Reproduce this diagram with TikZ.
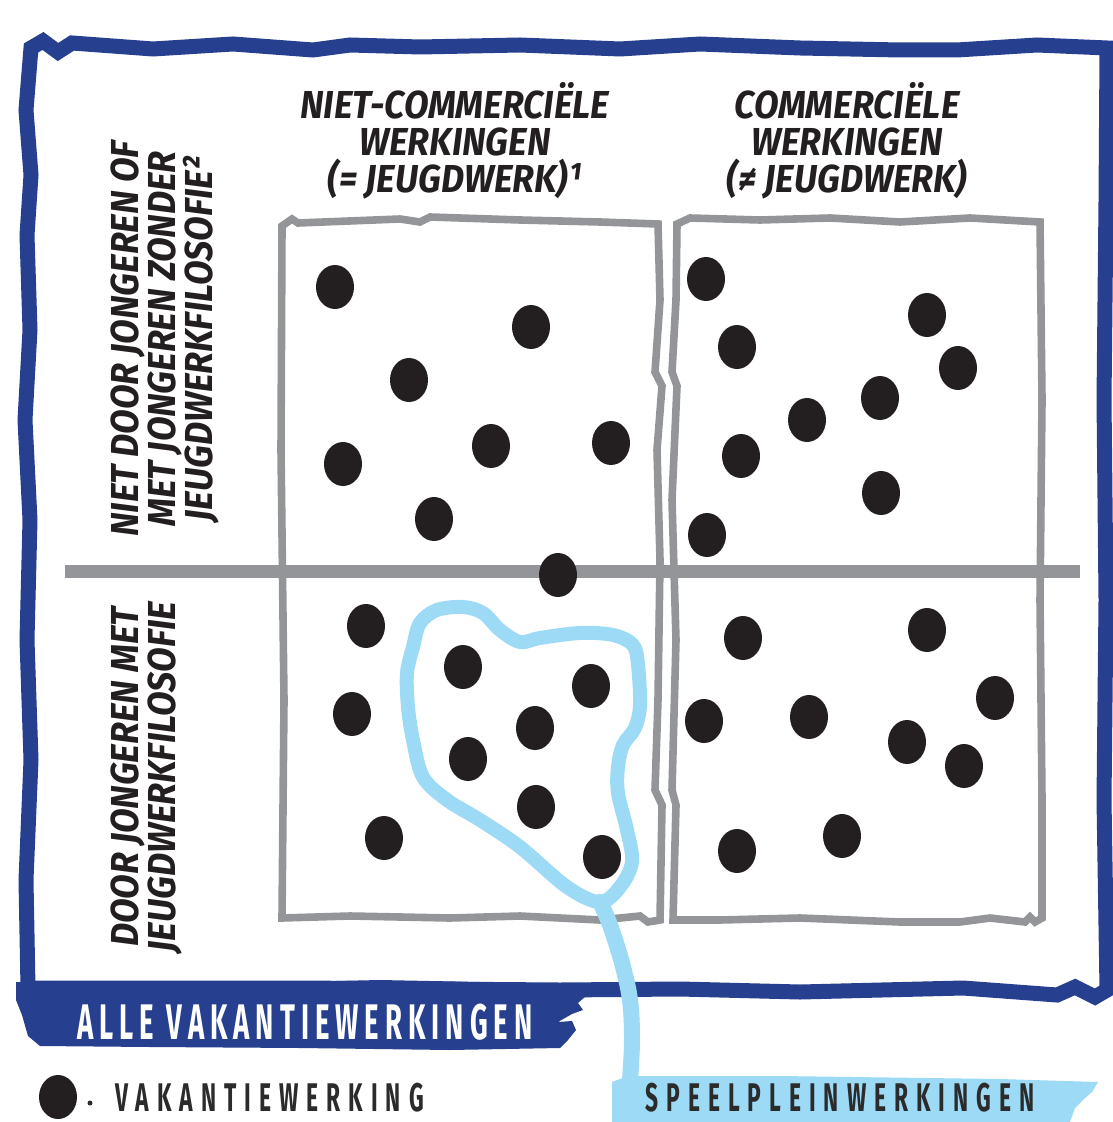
\documentclass[tikz,border=0pt]{standalone}
\usepackage{fontspec}
\setmainfont{Fira Sans}
\newfontfamily\headfont[FakeStretch=0.92]{Fira Sans}
\newfontfamily\stampfont[FakeStretch=0.55,LetterSpace=12]{Fira Sans}
\newfontfamily\stampwidefont[FakeStretch=0.57,LetterSpace=20]{Fira Sans}
\usetikzlibrary{shapes.geometric}
\definecolor{frameblue}{HTML}{263F8F}
\definecolor{skyblue}{HTML}{9DDAF5}
\definecolor{boxgrey}{HTML}{939598}
\definecolor{dotblack}{HTML}{231F20}
\definecolor{stampink}{HTML}{2B2B2B}
\tikzset{
  dot/.style={ellipse, fill=dotblack, minimum width=19pt, minimum height=22pt, inner sep=0pt},
  frameline/.style={draw=frameblue, line width=7.5pt, line join=miter},
  boxline/.style={draw=boxgrey, line width=3.8pt, line join=miter},
  divider/.style={draw=boxgrey, line width=6.5pt},
  loopline/.style={draw=skyblue, line width=7pt, line join=round, line cap=round},
  head/.style={font=\headfont\bfseries\itshape\fontsize{19.5}{18.5}\selectfont, align=center, text=dotblack, inner sep=0pt},
  side/.style={head, rotate=90},
  stamp/.style={font=\stampfont\bfseries\fontsize{25}{25}\selectfont, inner sep=0pt},
  stampsmall/.style={font=\stampwidefont\bfseries\fontsize{20}{20}\selectfont, inner sep=0pt, text=stampink}
}
\begin{document}
\begin{tikzpicture}[x=0.5pt,y=-0.5pt]
\useasboundingbox (0,0) rectangle (1112,1122);
% outer blue frame
\draw[frameline] (31,48) -- (43,41) -- (58,52) -- (72,43) -- (153,49) -- (233,44) -- (313,50) -- (350,45) -- (420,47) -- (520,45) -- (620,49) -- (700,44) -- (800,48) -- (900,50) -- (957,50) -- (1037,45) -- (1107,48) -- (1106,200) -- (1104,400) -- (1106,600) -- (1104,800) -- (1107,990) -- (1095,997) -- (1075,987) -- (1057,995) -- (963,988) -- (800,992) -- (680,989) -- (560,990) -- (300,988) -- (28,988) -- (26,880) -- (31,760) -- (27,640) -- (30,520) -- (25,420) -- (30,330) -- (27,235) -- (31,175) -- (26,110) -- cycle;
% grey boxes
\draw[boxline] (282,226) -- (292,219) -- (298,223) -- (400,219) -- (420,222) -- (430,217) -- (520,220) -- (600,222) -- (658,224) -- (660,300) -- (655,372) -- (662,386) -- (657,450) -- (660,560) -- (658,700) -- (655,790) -- (662,805) -- (660,920) -- (648,922) -- (640,916) -- (600,920) -- (520,916) -- (450,918) -- (350,916) -- (282,918) -- (284,700) -- (281,450) -- cycle;
\draw[boxline] (677,224) -- (690,218) -- (760,220) -- (830,218) -- (900,222) -- (970,218) -- (1040,222) -- (1042,400) -- (1040,600) -- (1042,800) -- (1042,918) -- (1035,922) -- (1030,917) -- (1025,922) -- (990,918) -- (960,922) -- (900,922) -- (800,918) -- (720,920) -- (673,920) -- (676,805) -- (672,790) -- (676,640) -- (672,500) -- (677,386) -- (672,372) -- (676,300) -- cycle;
\draw[divider] (65,571) -- (1080,571);
% dots
\node[dot] (d1) at (335,287) {};
\node[dot] (d2) at (531,327) {};
\node[dot] (d3) at (409,380) {};
\node[dot] (d4) at (343,464) {};
\node[dot] (d5) at (491,446) {};
\node[dot] (d6) at (611,443) {};
\node[dot] (d7) at (434,519) {};
\node[dot] (d8) at (558,575) {};
\node[dot] (d9) at (706,279) {};
\node[dot] (d10) at (737,347) {};
\node[dot] (d11) at (927,315) {};
\node[dot] (d12) at (958,368) {};
\node[dot] (d13) at (880,398) {};
\node[dot] (d14) at (807,420) {};
\node[dot] (d15) at (741,456) {};
\node[dot] (d16) at (881,493) {};
\node[dot] (d17) at (707,535) {};
\node[dot] (d18) at (366,626) {};
\node[dot] (d19) at (352,714) {};
\node[dot] (d20) at (384,838) {};
\node[dot] (d21) at (463,667) {};
\node[dot] (d22) at (591,686) {};
\node[dot] (d23) at (535,728) {};
\node[dot] (d24) at (468,759) {};
\node[dot] (d25) at (536,807) {};
\node[dot] (d26) at (602,857) {};
\node[dot] (d27) at (743,638) {};
\node[dot] (d28) at (927,630) {};
\node[dot] (d29) at (995,698) {};
\node[dot] (d30) at (704,721) {};
\node[dot] (d31) at (809,717) {};
\node[dot] (d32) at (907,742) {};
\node[dot] (d33) at (964,766) {};
\node[dot] (d34) at (842,836) {};
\node[dot] (d35) at (737,851) {};
% dark blue banner
\fill[frameblue] (16,982) -- (200,984) -- (380,980) -- (582,984) -- (586,996) -- (578,1003) -- (583,1010) -- (572,1014) -- (558,1022) -- (572,1021) -- (576,1030) -- (568,1040) -- (560,1048) -- (450,1050) -- (300,1048) -- (150,1047) -- (40,1046) -- (28,1036) -- (22,1015) -- (16,1000) -- cycle;
\node[stamp, text=white] (alle) at (305,1022) {ALLE VAKANTIEWERKINGEN};
% light blue banner
\fill[skyblue] (612,1082) -- (628,1076) -- (780,1076) -- (1000,1079) -- (1098,1082) -- (1092,1092) -- (1085,1098) -- (1075,1108) -- (1070,1122) -- (612,1122) -- cycle;
% light blue loop and tail
\draw[skyblue, line width=8pt, line cap=round] plot[smooth, tension=0.6] coordinates {(630,1080) (632,1040) (630,1000) (622,963) (610,925) (600,902)};
\draw[loopline] plot[smooth cycle, tension=0.55] coordinates {(600,902) (620,887) (632,862) (627,830) (618,793) (618,767) (623,745) (635,728) (640,705) (638,665) (633,645) (613,635) (580,633) (540,638) (520,642) (500,630) (483,613) (463,607) (437,610) (420,623) (413,647) (407,673) (408,707) (413,740) (423,777) (447,800) (480,820) (520,847) (567,887)};
\node[stampsmall, anchor=north] (speel) at (840,1083) {SPEELPLEINWERKINGEN};
% headers
\node[head] (h1) at (455,141) {NIET-COMMERCIËLE\\WERKINGEN\\(= JEUGDWERK)¹};
\node[head] (h2) at (847,141) {COMMERCIËLE\\WERKINGEN\\(≠ JEUGDWERK)};
\node[side] (s1) at (165,339) {NIET DOOR JONGEREN OF\\MET JONGEREN ZONDER\\JEUGDWERKFILOSOFIE²};
\node[side] (s2) at (146,777) {DOOR JONGEREN MET\\JEUGDWERKFILOSOFIE};
% legend
\node[dot] (ld) at (58,1097) {};
\fill[stampink] (90,1103) circle (2.5);
\node[stampsmall, anchor=north west] (leg) at (115,1083) {VAKANTIEWERKING};
\end{tikzpicture}
\end{document}
